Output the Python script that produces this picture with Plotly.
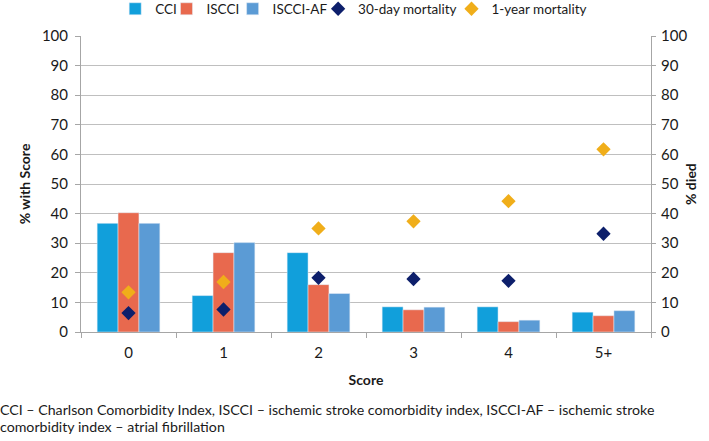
import plotly.graph_objects as go

categories = ["0", "1", "2", "3", "4", "5+"]
cci = [36.7, 12.3, 26.8, 8.5, 8.5, 6.7]
iscci = [40.3, 26.8, 16.0, 7.5, 3.5, 5.5]
iscci_af = [36.7, 30.2, 13.0, 8.4, 4.0, 7.2]
mort_30d = [6.4, 7.6, 18.3, 17.9, 17.3, 33.2]
mort_1y = [13.4, 16.9, 35.0, 37.4, 44.2, 61.7]
ticks = [0, 10, 20, 30, 40, 50, 60, 70, 80, 90, 100]

FONT = "Lato"
LEG_FS = 13.5
fig = go.Figure()
fig.add_trace(go.Bar(x=categories, y=cci, name="CCI", marker_color="#119FDB", legend="legend"))
fig.add_trace(go.Bar(x=categories, y=iscci, name="ISCCI", marker_color="#E8694E", legend="legend2"))
fig.add_trace(go.Bar(x=categories, y=iscci_af, name="ISCCI-AF", marker_color="#5B9BD5", legend="legend3"))
fig.add_trace(go.Scatter(x=categories, y=mort_30d, name="30-day mortality", mode="markers",
                         marker=dict(symbol="diamond", size=11, color="#0D1F6B"), yaxis="y2",
                         legend="legend4"))
fig.add_trace(go.Scatter(x=categories, y=mort_1y, name="1-year mortality", mode="markers",
                         marker=dict(symbol="diamond", size=11, color="#F0AE1A"), yaxis="y2",
                         legend="legend5"))

def leg(x):
    return dict(orientation="h", x=x, xanchor="left", y=1 + (36 - 9) / 296,
                yanchor="middle", font=dict(size=LEG_FS), itemwidth=30,
                bgcolor="rgba(0,0,0,0)")

fig.update_layout(
    width=709, height=441,
    margin=dict(l=81, r=58, t=36, b=109, autoexpand=False),
    paper_bgcolor="white", plot_bgcolor="white",
    font=dict(family=FONT, size=14, color="#1a1a1a"),
    barmode="group", bargap=0.34, bargroupgap=0,
    showlegend=True,
    legend=leg(0.060), legend2=leg(0.150), legend3=leg(0.266),
    legend4=leg(0.416), legend5=leg(0.650),
    xaxis=dict(type="category", showline=True, linecolor="#A6A6A6", ticks="outside",
               tickson="boundaries", ticklen=5, tickcolor="#A6A6A6",
               tickfont=dict(size=15), ticklabelstandoff=7,
               title=dict(text="<b>Score</b>", font=dict(size=14), standoff=15)),
    yaxis=dict(range=[0, 100], tickvals=ticks, showgrid=True, gridcolor="#BFBFBF",
               showline=True, linecolor="#A6A6A6", ticks="outside", ticklen=5,
               tickcolor="#A6A6A6", tickfont=dict(size=15), zeroline=False,
               ticklabelstandoff=4,
               title=dict(text="<b>% with Score</b>", font=dict(size=14), standoff=7)),
    yaxis2=dict(range=[0, 100], tickvals=ticks, overlaying="y", side="right",
                showgrid=False, showline=True, linecolor="#A6A6A6", ticks="outside",
                ticklen=4, tickcolor="#A6A6A6", tickfont=dict(size=15), zeroline=False,
                ticklabelstandoff=2),
)

fig.add_annotation(text="<b>% died</b>", xref="paper", yref="paper",
                   x=1 + (690 - 651) / 570, y=0.5, xanchor="center", yanchor="middle",
                   textangle=-90, showarrow=False, font=dict(size=14, color="#1a1a1a"))

cap1 = "CCI – Charlson Comorbidity Index, ISCCI – ischemic stroke comorbidity index, ISCCI-AF – ischemic stroke"
cap2 = "comorbidity index – atrial fibrillation"
for txt, yy in [(cap1, 409), (cap2, 426)]:
    fig.add_annotation(text=txt, xref="paper", yref="paper", x=-83/570,
                       y=(332 - yy) / 296, xanchor="left", yanchor="middle",
                       showarrow=False, align="left", font=dict(size=14.2, color="#1a1a1a"))

fig.write_html("out.html", config={"displayModeBar": False},
               post_script="document.body.style.margin='0';")
